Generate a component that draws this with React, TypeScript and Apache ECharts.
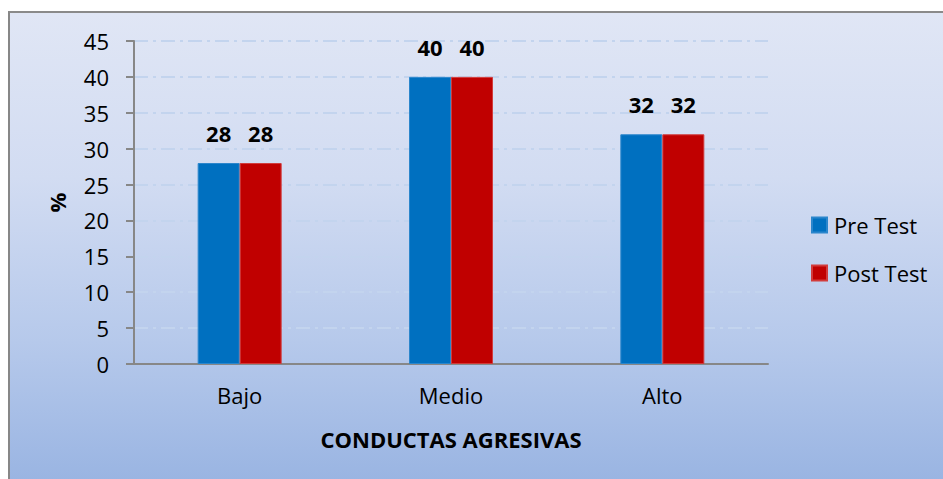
import React, { useEffect, useRef } from "react";
import * as echarts from "echarts";

const categories = ["Bajo", "Medio", "Alto"];
const preTest = [28, 40, 32];
const postTest = [28, 40, 32];
const seriesNames = ["Pre Test", "Post Test"];
const xAxisTitle = "CONDUCTAS AGRESIVAS";
const yAxisTitle = "%";

const FONT = "'Open Sans', sans-serif";

export default function App() {
  const ref = useRef<HTMLDivElement>(null);
  useEffect(() => {
    if (!ref.current) return;
    const chart = echarts.init(ref.current, undefined, { renderer: "svg" });
    const label = {
      show: true,
      position: "top",
      distance: 19,
      fontFamily: FONT,
      fontWeight: "bold",
      fontSize: 22,
      color: "#000",
    };
    chart.setOption({
      animation: false,
      backgroundColor: "transparent",
      textStyle: { fontFamily: FONT },
      grid: { left: 134, top: 41, width: 634, height: 323, containLabel: false },
      legend: {
        orient: "vertical",
        left: 806,
        top: 208,
        itemWidth: 15,
        itemHeight: 15,
        itemGap: 24,
        icon: "rect",
        textStyle: { fontFamily: FONT, fontSize: 22, lineHeight: 24, color: "#000", padding: [0, 0, 0, 2] },
        data: seriesNames,
      },
      xAxis: {
        type: "category",
        data: categories,
        name: xAxisTitle,
        nameLocation: "middle",
        nameGap: 64,
        nameTextStyle: { fontFamily: FONT, fontWeight: "bold", fontSize: 22, color: "#000" },
        axisLine: { lineStyle: { color: "#878787", width: 2 } },
        axisTick: { show: false },
        axisLabel: { fontFamily: FONT, fontSize: 22, color: "#000", margin: 20 },
      },
      yAxis: {
        type: "value",
        min: 0,
        max: 45,
        interval: 5,
        name: yAxisTitle,
        nameLocation: "middle",
        nameGap: 66,
        nameRotate: 90,
        nameTextStyle: { fontFamily: FONT, fontWeight: "bold", fontSize: 22, color: "#000" },
        axisLine: { show: true, lineStyle: { color: "#878787", width: 2 } },
        axisTick: { show: true, length: 8, inside: false, lineStyle: { color: "#878787", width: 2 } },
        axisLabel: { fontFamily: FONT, fontSize: 22, color: "#000", margin: 25 },
        splitLine: {
          show: true,
          lineStyle: { color: "#c3d4ee", width: 2, type: [14, 5, 3, 5] },
        },
      },
      series: [
        {
          name: seriesNames[0],
          type: "bar",
          data: preTest,
          barWidth: 42,
          barGap: "0%",
          itemStyle: { color: "#0070C0", borderColor: "#2b86cc", borderWidth: 1 },
          label,
        },
        {
          name: seriesNames[1],
          type: "bar",
          data: postTest,
          barWidth: 42,
          barGap: "0%",
          itemStyle: { color: "#C00000", borderColor: "#d23b3b", borderWidth: 1 },
          label,
        },
      ],
    });
    return () => chart.dispose();
  }, []);

  return (
    <div style={{ position: "fixed", left: 0, top: 0, width: 943, height: 479, overflow: "hidden", background: "#fff" }}>
      <div
        style={{
          position: "absolute",
          left: 8,
          top: 11,
          width: 1000,
          height: 470,
          borderLeft: "2px solid #878787",
          borderTop: "2px solid #8a8a8a",
          background: "linear-gradient(to bottom, #e0e6f5 0%, #d2dcf2 35%, #b6c9eb 70%, #99b4e2 100%)",
        }}
      />
      <div ref={ref} style={{ position: "absolute", left: 0, top: 0, width: 943, height: 479 }} />
    </div>
  );
}
